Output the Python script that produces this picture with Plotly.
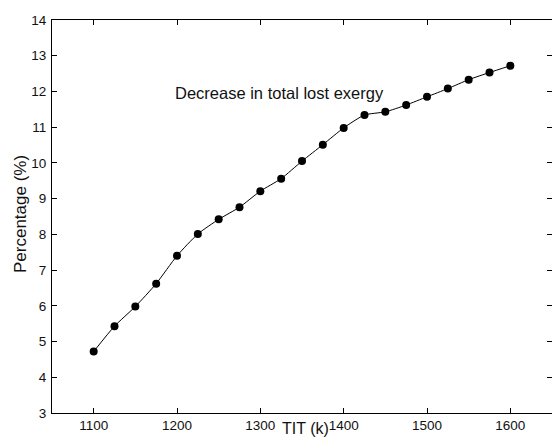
import plotly.graph_objects as go

tit_k = [1100, 1125, 1150, 1175, 1200, 1225, 1250, 1275, 1300, 1325, 1350,
         1375, 1400, 1425, 1450, 1475, 1500, 1525, 1550, 1575, 1600]
percentage = [4.72, 5.43, 5.98, 6.62, 7.40, 8.01, 8.42, 8.76, 9.21, 9.56, 10.05,
              10.51, 10.98, 11.34, 11.43, 11.62, 11.85, 12.08, 12.33, 12.53, 12.72]

x_ticks = [1100, 1200, 1300, 1400, 1500, 1600]
y_ticks = [3, 4, 5, 6, 7, 8, 9, 10, 11, 12, 13, 14]

FONT = "Arial, Liberation Sans, sans-serif"
TXT = "#111111"

fig = go.Figure()
fig.add_trace(go.Scatter(
    x=tit_k, y=percentage, mode="lines+markers",
    line=dict(color="black", width=1, shape="spline", smoothing=0.6),
    marker=dict(color="black", size=8),
    showlegend=False,
))

axis_common = dict(
    showline=True, linecolor="black", linewidth=1, mirror="ticks",
    ticks="inside", ticklen=5, tickcolor="black", tickwidth=1,
    showgrid=False, zeroline=False, automargin=False,
    tickfont=dict(family=FONT, size=13.5, color=TXT),
)

L, R, T, B = 52, 0, 20, 26
W, H = 552, 439
pw, ph = W - L - R, H - T - B

def px_to_paper(px, py):
    return (px - L) / pw, (H - B - py) / ph

ax, ay = px_to_paper(305, 438)
bx, by = px_to_paper(20, 214)

fig.update_layout(
    width=W, height=H,
    margin=dict(l=L, r=R, t=T, b=B, autoexpand=False),
    paper_bgcolor="white", plot_bgcolor="white",
    xaxis=dict(range=[1050, 1650], tickvals=x_ticks, **axis_common),
    yaxis=dict(range=[3, 14], tickvals=y_ticks, ticklabelstandoff=2, **axis_common),
    annotations=[
        dict(text="Decrease in total lost exergy", x=1323, y=11.95,
             xref="x", yref="y", xanchor="center", yanchor="middle",
             showarrow=False, font=dict(family=FONT, size=16.5, color=TXT)),
        dict(text="TIT (k)", x=ax, y=ay, xref="paper", yref="paper",
             xanchor="center", yanchor="bottom", borderpad=0,
             showarrow=False, font=dict(family=FONT, size=16, color=TXT)),
        dict(text="Percentage (%)", x=bx, y=by, xref="paper", yref="paper",
             xanchor="center", yanchor="middle", showarrow=False, textangle=-90,
             font=dict(family=FONT, size=17, color=TXT)),
    ],
)

fig.write_html("out.html", config={"displayModeBar": False},
               post_script="document.body.style.margin='0';document.body.style.overflow='hidden';")
